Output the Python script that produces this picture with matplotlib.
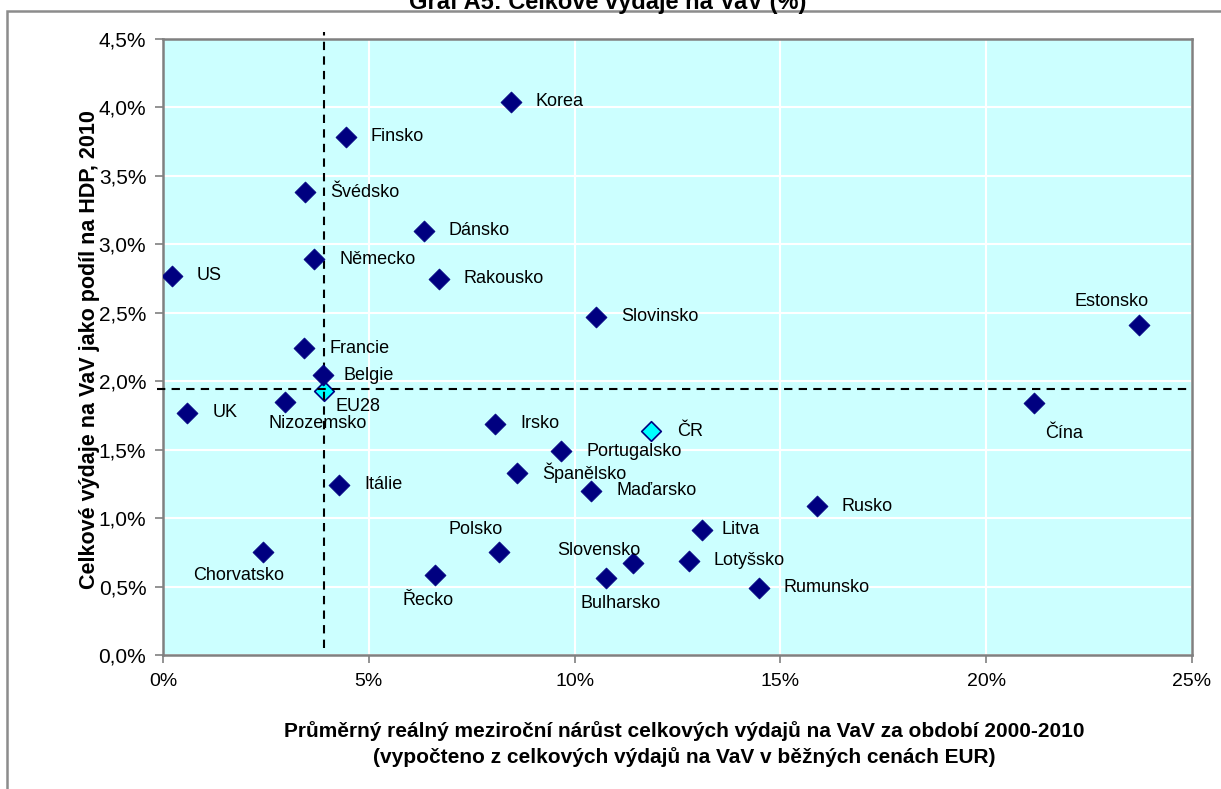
import matplotlib
matplotlib.use("Agg")
import matplotlib.pyplot as plt
from matplotlib.patches import Rectangle
from matplotlib.ticker import FuncFormatter

plt.rcParams['font.family'] = ['Liberation Sans', 'DejaVu Sans']

# ---- data ----
countries = ["Korea", "Finsko", "Švédsko", "Dánsko", "Německo", "US", "Rakousko",
             "Slovinsko", "Estonsko", "Francie", "Belgie", "Nizozemsko", "UK",
             "Itálie", "Irsko", "Portugalsko", "Španělsko", "Maďarsko", "Rusko",
             "Litva", "Polsko", "Slovensko", "Lotyšsko", "Bulharsko", "Rumunsko",
             "Čína", "Řecko", "Chorvatsko"]
growth = [8.45, 4.44, 3.45, 6.34, 3.67, 0.21, 6.70,
          10.53, 23.72, 3.43, 3.89, 2.97, 0.59,
          4.28, 8.07, 9.67, 8.61, 10.41, 15.88,
          13.09, 8.16, 11.41, 12.77, 10.76, 14.48,
          21.16, 6.60, 2.42]
share = [4.04, 3.785, 3.38, 3.10, 2.89, 2.77, 2.75,
         2.47, 2.41, 2.24, 2.045, 1.85, 1.77,
         1.245, 1.69, 1.49, 1.33, 1.20, 1.085,
         0.91, 0.756, 0.67, 0.69, 0.56, 0.49,
         1.84, 0.586, 0.754]

highlight_names = ["EU28", "ČR"]
highlight_growth = [3.91, 11.85]
highlight_share = [1.93, 1.635]

eu_growth_ref = 3.91
eu_share_ref = 1.94

x_ticks = [0, 5, 10, 15, 20, 25]
y_ticks = [0.0, 0.5, 1.0, 1.5, 2.0, 2.5, 3.0, 3.5, 4.0, 4.5]

title = "Graf A5: Celkové výdaje na VaV (%)"
xlabel_lines = ["Průměrný reálný meziroční nárůst celkových výdajů na VaV za období 2000-2010",
                "(vypočteno z celkových výdajů na VaV v běžných cenách EUR)"]
ylabel = "Celkové výdaje na VaV jako podíl na HDP, 2010"

# label placement (pixel offsets, horizontal alignment) - styling only
label_style = {
    "Estonsko": (-28, 24, "center"),
    "Nizozemsko": (32, -22, "center"),
    "Polsko": (-23, 22, "center"),
    "Slovensko": (-34, 13, "center"),
    "Bulharsko": (15, -25, "center"),
    "Čína": (30, -30, "center"),
    "Řecko": (-7, -26, "center"),
    "Chorvatsko": (-24, -24, "center"),
    "Belgie": (20, 0, "left"),
    "Litva": (20, 1, "left"),
    "EU28": (12, -16, "left"),
    "ČR": (26, 0, "left"),
}

W, H = 1221, 789
fig = plt.figure(figsize=(W / 100, H / 100), dpi=100)

# outer chart border
fig.patches.append(Rectangle((7 / W, -0.1), 1.2, 1 - 11 / H + 0.1, transform=fig.transFigure,
                             fill=False, edgecolor='#8c8c8c', linewidth=1.8, zorder=0))

ax = fig.add_axes([163 / W, 1 - 655 / H, (1192 - 163) / W, (655 - 39) / H])
ax.set_facecolor('#CCFFFF')
ax.set_xlim(0, 25)
ax.set_ylim(0, 4.5)
ax.set_xticks(x_ticks)
ax.set_yticks(y_ticks)
ax.xaxis.set_major_formatter(FuncFormatter(lambda v, p: f"{v:.0f}%"))
ax.yaxis.set_major_formatter(FuncFormatter(lambda v, p: f"{v:.1f}%".replace('.', ',')))
ax.grid(True, color='white', linewidth=1.5, zorder=0)
ax.set_axisbelow(True)
for s in ax.spines.values():
    s.set_color('#808080')
    s.set_linewidth(1.8)
ax.tick_params(axis='both', direction='out', length=6, width=1.2, color='#808080',
               labelsize=14, labelcolor='black')
ax.tick_params(axis='y', labelsize=15)
ax.tick_params(axis='x', pad=7)
ax.tick_params(axis='y', pad=6)

# scatter
ax.scatter(growth, share, marker='D', s=115, color='#000080', edgecolors='#000080',
           linewidths=0.5, zorder=3)
ax.scatter(highlight_growth, highlight_share, marker='D', s=100, color='#00FFFF',
           edgecolors='#000080', linewidths=1.2, zorder=2.5)

# reference dashed lines
ax.plot([eu_growth_ref, eu_growth_ref], [0.05, 4.55], color='black', linestyle=(0, (4, 3)),
        linewidth=1.5, clip_on=False, zorder=2.8)
ax.plot([-0.15, 25], [eu_share_ref, eu_share_ref], color='black', linestyle=(0, (4, 3)),
        linewidth=1.5, clip_on=False, zorder=2.8)

# labels
for name, xv, yv in zip(countries + highlight_names, growth + highlight_growth,
                        share + highlight_share):
    dx, dy, ha = label_style.get(name, (25, 0, "left"))
    ax.annotate(name, (xv, yv), xytext=(dx, dy), textcoords='offset pixels',
                ha=ha, va='center', fontsize=13, color='black', zorder=4)

# axis titles
fig.text(684 / W, 1 - 731 / H, xlabel_lines[0], ha='center', va='center',
         fontsize=15, fontweight='bold')
fig.text(684 / W, 1 - 757 / H, xlabel_lines[1], ha='center', va='center',
         fontsize=15, fontweight='bold')
fig.text(90 / W, 1 - 350 / H, ylabel, ha='center', va='center', rotation=90,
         fontsize=15.5, fontweight='bold')

# title (partly above the visible area, as in the reference)
fig.text(608 / W, 1 - 9 / H, title, ha='center', va='baseline', fontsize=17,
         fontweight='bold')

fig.savefig("out.png", dpi=100)
